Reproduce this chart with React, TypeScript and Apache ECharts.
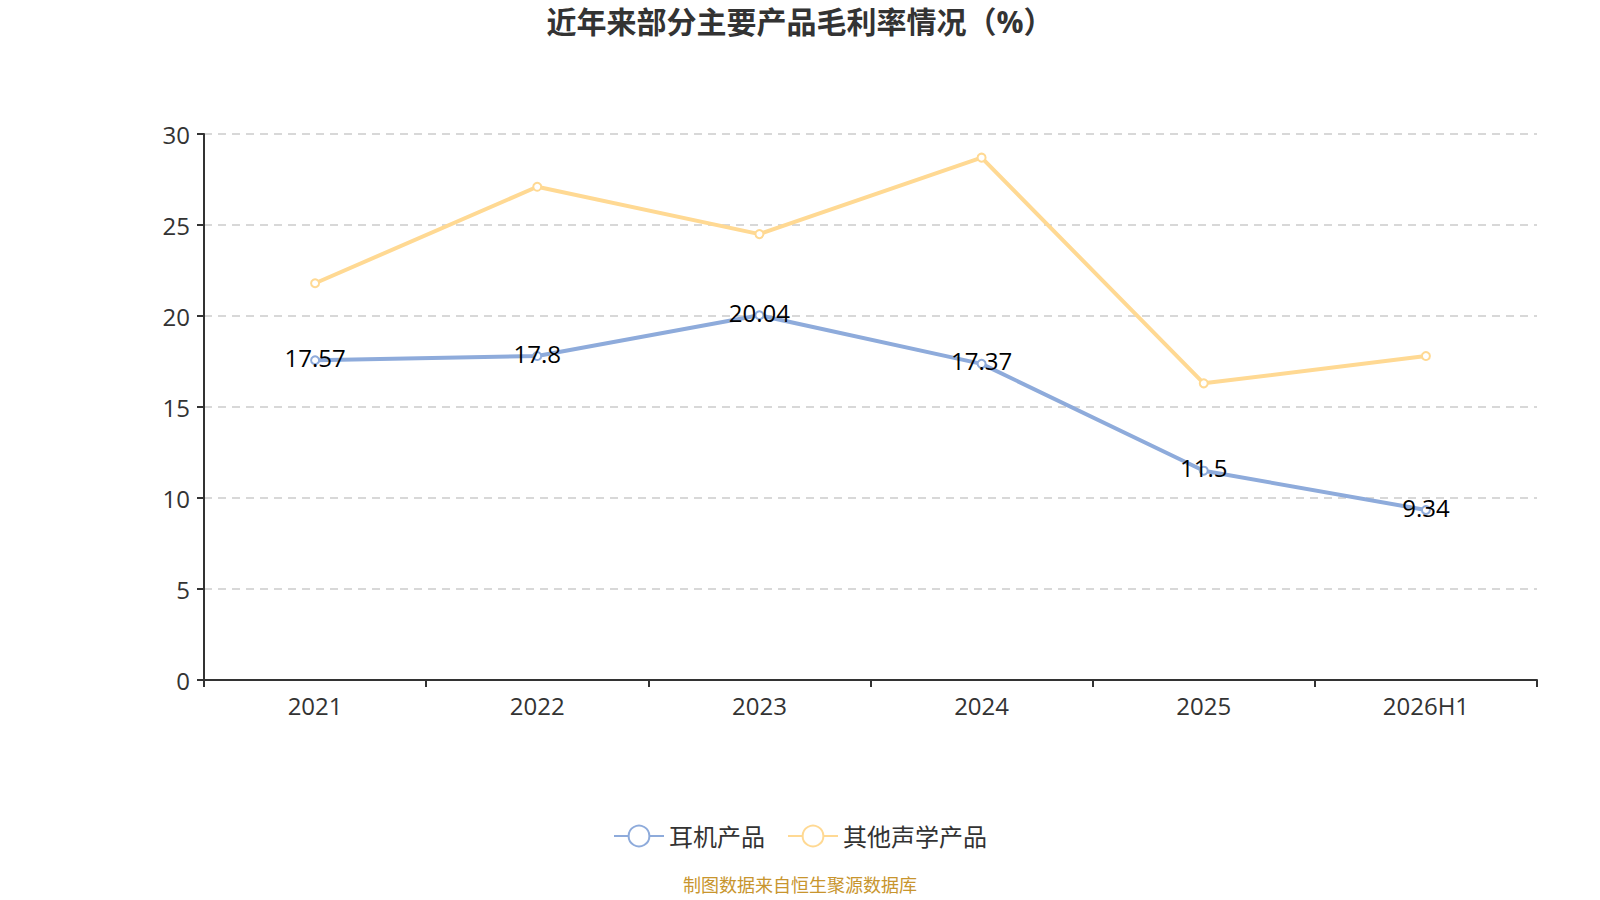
import React, { useEffect, useRef } from "react";
import * as echarts from "echarts";

const categories = ["2021", "2022", "2023", "2024", "2025", "2026H1"];
const earphoneValues = [17.57, 17.8, 20.04, 17.37, 11.5, 9.34];
const otherAcousticValues = [21.8, 27.1, 24.5, 28.7, 16.3, 17.8];
const seriesNames = ["耳机产品", "其他声学产品"];
const titleText = "近年来部分主要产品毛利率情况（%）";
const sourceText = "制图数据来自恒生聚源数据库";

const FONT = '"Open Sans", "Noto Sans CJK SC", "Noto Sans", sans-serif';

export default function App() {
  const ref = useRef<HTMLDivElement>(null);
  useEffect(() => {
    document.body.style.margin = "0";
    const chart = echarts.init(ref.current!, undefined, { renderer: "svg" });
    chart.setOption({
      animation: false,
      backgroundColor: "#ffffff",
      textStyle: { fontFamily: FONT },
      title: {
        text: titleText,
        left: "center",
        top: 1,
        textStyle: { fontSize: 30, fontWeight: "bold", color: "#333", fontFamily: FONT },
      },
      legend: {
        top: 819,
        left: "center",
        itemWidth: 50,
        itemHeight: 26,
        itemGap: 22,
        textStyle: { fontSize: 24, color: "#333", fontFamily: FONT },
        data: seriesNames,
      },
      grid: { left: 204, right: 63, top: 134, bottom: 220 },
      xAxis: {
        type: "category",
        data: categories,
        boundaryGap: true,
        axisLine: { lineStyle: { color: "#333", width: 2 } },
        axisTick: { show: true, length: 7, lineStyle: { color: "#333", width: 2 } },
        axisLabel: { fontSize: 24, color: "#333", margin: 13, fontFamily: FONT },
      },
      yAxis: {
        type: "value",
        min: 0,
        max: 30,
        interval: 5,
        axisLine: { show: true, lineStyle: { color: "#333", width: 2 } },
        axisTick: { show: true, length: 7, lineStyle: { color: "#333", width: 2 } },
        axisLabel: { fontSize: 24, color: "#333", margin: 14, fontFamily: FONT },
        splitLine: { show: true, lineStyle: { color: "#ccc", type: [8, 6], width: 1.5 } },
      },
      series: [
        {
          name: seriesNames[0],
          type: "line",
          data: earphoneValues,
          color: "#8eabdb",
          symbol: "emptyCircle",
          symbolSize: 8,
          lineStyle: { width: 4, color: "#8eabdb" },
          label: {
            show: true,
            position: "inside",
            offset: [0, -3],
            color: "#000",
            fontSize: 24,
            fontFamily: FONT,
          },
          z: 3,
        },
        {
          name: seriesNames[1],
          type: "line",
          data: otherAcousticValues,
          color: "#ffd993",
          symbol: "emptyCircle",
          symbolSize: 8,
          lineStyle: { width: 4, color: "#ffd993" },
          label: { show: false },
          z: 2,
        },
      ],
      graphic: [
        {
          type: "text",
          left: "center",
          top: 876,
          style: {
            text: sourceText,
            fontSize: 18,
            fill: "#c8952e",
            fontFamily: FONT,
          },
        },
      ],
    });
    return () => chart.dispose();
  }, []);
  return (
    <div
      ref={ref}
      style={{ position: "absolute", left: 0, top: 0, width: 1600, height: 900 }}
    />
  );
}
